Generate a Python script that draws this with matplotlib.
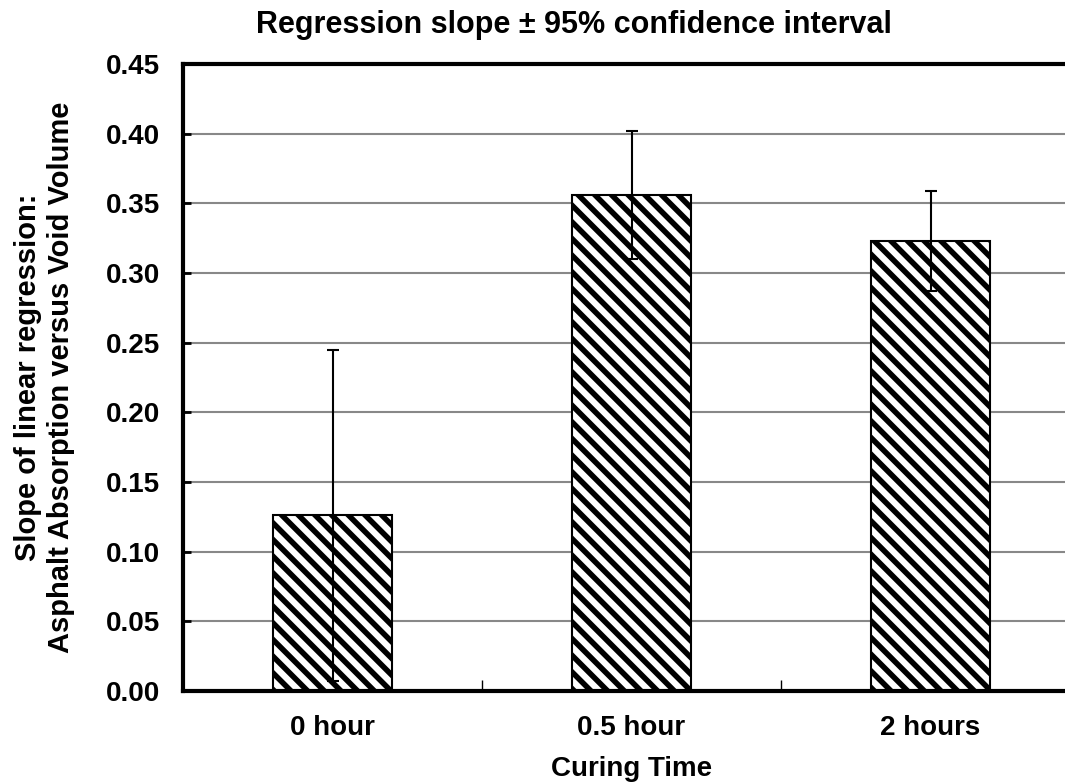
import matplotlib
matplotlib.use('Agg')
import matplotlib.pyplot as plt
import numpy as np

plt.rcParams['font.family'] = ['Liberation Sans', 'DejaVu Sans']
plt.rcParams['font.weight'] = 'bold'
plt.rcParams['hatch.linewidth'] = 4.0

categories = ['0 hour', '0.5 hour', '2 hours']
slopes = [0.126, 0.356, 0.323]
ci95 = [0.119, 0.046, 0.036]
yticks = np.arange(0, 0.451, 0.05)

fig = plt.figure(figsize=(10.65, 7.84), dpi=100)
# axes runs past the right edge of the picture, like the source image
ax = fig.add_axes([183 / 1065, 93 / 784, 897 / 1065, 627 / 784])

x = np.arange(len(categories))
ax.bar(x, slopes, width=0.4, color='white', edgecolor='black',
       linewidth=1.5, hatch='\\\\', zorder=2)
ax.errorbar(x, slopes, yerr=ci95, fmt='none', ecolor='black',
            elinewidth=1.5, capsize=4, capthick=1.5, zorder=3)

ax.set_xlim(-0.5, 2.5)
ax.set_ylim(0, 0.45)
ax.set_yticks(yticks)
ax.set_yticklabels([f'{v:.2f}' for v in yticks])
ax.set_xticks(x)
ax.set_xticklabels(categories)
ax.set_xticks([0.5, 1.5], minor=True)
ax.tick_params(axis='x', which='major', length=0, labelsize=20, pad=17)
ax.tick_params(axis='x', which='minor', direction='in', length=8, width=1)
ax.tick_params(axis='y', direction='in', length=6, width=2, labelsize=20, pad=16.5)

ax.yaxis.grid(True, color='#888888', linewidth=1.5, zorder=0)
ax.set_axisbelow(True)

for side in ['left', 'bottom', 'top']:
    ax.spines[side].set_linewidth(3)
ax.spines['right'].set_visible(False)

ax.set_title('Regression slope \u00b1 95% confidence interval',
             fontsize=22, fontweight='bold', pad=22, x=0.436)
ax.set_xlabel('Curing Time', fontsize=20, fontweight='bold', labelpad=11)
ax.set_ylabel('Slope of linear regression:\nAsphalt Absorption versus Void Volume',
              fontsize=21, fontweight='bold', labelpad=22.5)

fig.savefig('out.png', dpi=100)
